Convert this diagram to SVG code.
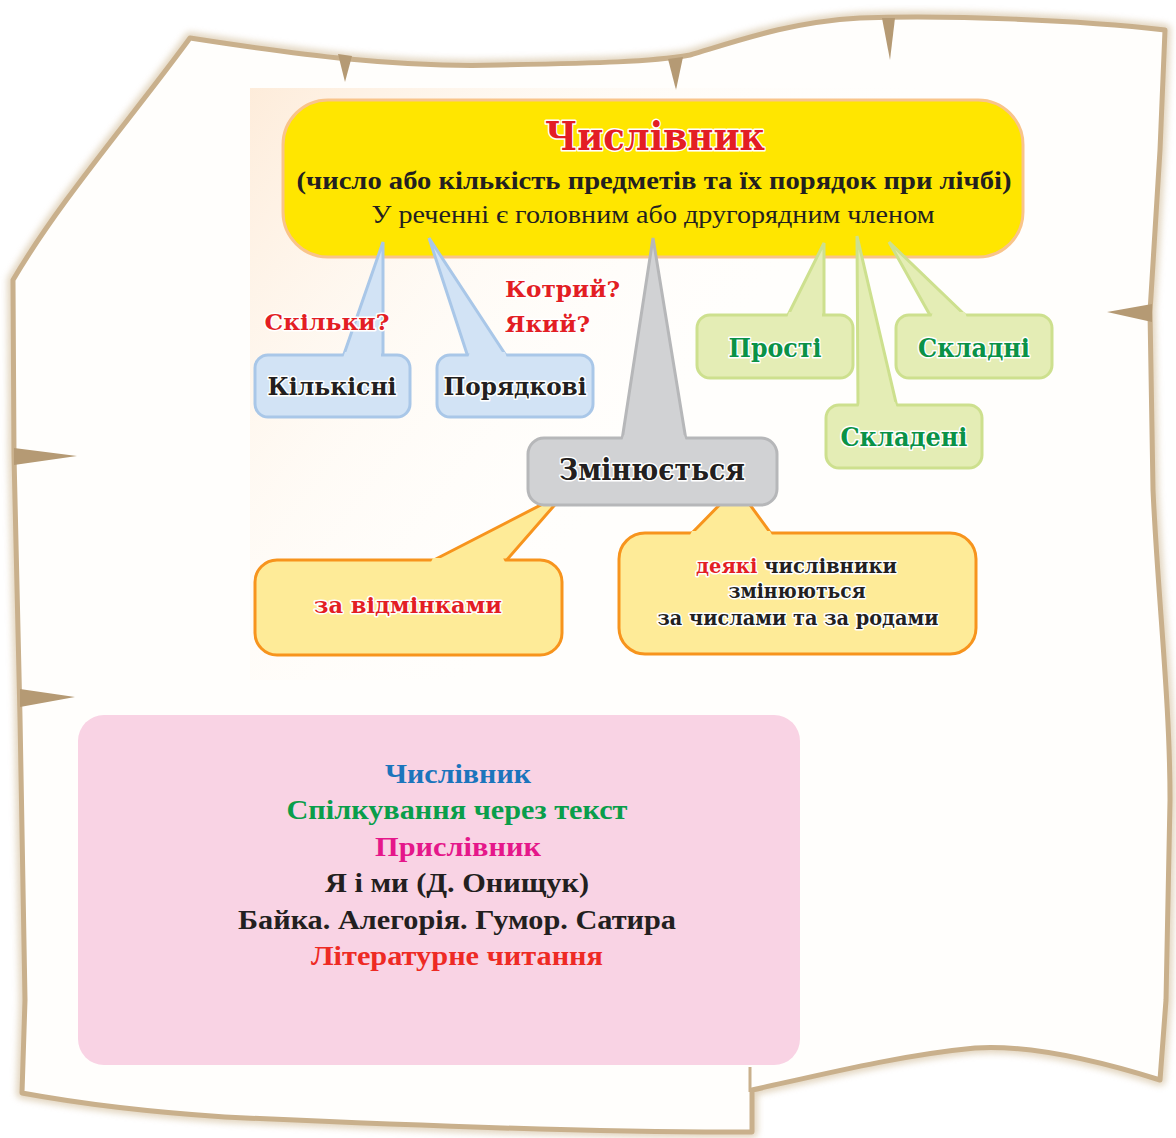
<svg xmlns="http://www.w3.org/2000/svg" width="1176" height="1138" viewBox="0 0 1176 1138">
<defs>
  <linearGradient id="peach" x1="0" y1="0" x2="1" y2="0.6">
    <stop offset="0" stop-color="#fde6cf" stop-opacity="0.75"/>
    <stop offset="0.35" stop-color="#fef3e6" stop-opacity="0.3"/>
    <stop offset="0.7" stop-color="#ffffff" stop-opacity="0"/>
  </linearGradient>
  <filter id="soft" x="-5%" y="-5%" width="110%" height="110%">
    <feGaussianBlur stdDeviation="3"/>
  </filter>
  <style>
    .edge{fill:none;stroke:#c9b08c;stroke-width:5;stroke-linejoin:round}
    .edgeSoft{fill:none;stroke:#d8c6a8;stroke-width:12;stroke-linejoin:round;opacity:0.7}
    .notch{fill:#b59a74}
    .lbl{font-family:"DejaVu Serif","Liberation Serif",serif;font-weight:bold;text-anchor:middle;paint-order:stroke;stroke:#ffffff;stroke-width:3;stroke-linejoin:round}
    .blk{fill:#231f20}
    .red{fill:#e31e24}
    .grn{fill:#0a9247}
    .tms{font-family:"Liberation Serif","Times New Roman",serif;text-anchor:middle}
    .blue{fill:#d2e3f5;stroke:#a9c7e8;stroke-width:3}
    .green{fill:#e4edb5;stroke:#cde08e;stroke-width:3}
    .gray{fill:#d1d2d4;stroke:#b6b7b9;stroke-width:3}
    .orange{fill:#feeb98;stroke:#f7941d;stroke-width:3}
  </style>
</defs>

<rect width="1176" height="1138" fill="#ffffff"/>

<!-- paper -->
<g id="paper">
  <path id="outline" d="M190,38 C300,55 400,68 500,65 C600,63 650,62 690,55 C740,40 790,22 860,18 C950,15 1080,20 1165,30 L1160,150 L1150,312 L1153,490 C1158,600 1170,700 1170,800 L1166,1000 L1160,1080 C1080,1055 1020,1045 975,1048 C900,1055 820,1075 752,1090 L752,1132 C600,1133 400,1125 225,1117 C120,1110 60,1100 22,1093 L25,1000 L20,717 L14,456 L13,280 C60,200 130,120 190,38 Z" fill="#fffefc"/>
  <use href="#outline" class="edgeSoft" filter="url(#soft)"/>
  <use href="#outline" class="edge"/>
  <line x1="750" y1="1067" x2="750" y2="1092" stroke="#c9b08c" stroke-width="3"/>
  <polygon class="notch" points="338,54 352,56 345,82"/>
  <polygon class="notch" points="668,59 683,57 676,90"/>
  <polygon class="notch" points="882,18 895,18 890,60"/>
  <polygon class="notch" points="1152,304 1152,322 1107,312"/>
  <polygon class="notch" points="14,448 14,465 77,456"/>
  <polygon class="notch" points="20,689 20,707 75,697"/>
</g>

<rect x="250" y="88" width="750" height="592" fill="url(#peach)"/>

<!-- main node -->
<g id="node-main">
  <rect x="283" y="100" width="740" height="157" rx="45" fill="#ffe600" stroke="#f9c48a" stroke-width="3"/>
  <text x="655" y="150" class="lbl red" font-size="40" stroke-width="5" textLength="220" lengthAdjust="spacingAndGlyphs">Числівник</text>
  <text x="654" y="189" class="tms blk" font-size="25" font-weight="bold" textLength="715" lengthAdjust="spacingAndGlyphs">(число або кількість предметів та їх порядок при лічбі)</text>
  <text x="653" y="223" class="tms blk" font-size="25" textLength="563" lengthAdjust="spacingAndGlyphs">У реченні є головним або другорядним членом</text>
</g>

<!-- connectors (callout tails) -->
<g id="connectors">
  <polygon class="blue" points="383,242 343,357 383,357"/>
  <polygon class="blue" points="429,238 468,357 507,357"/>
  <polygon class="gray" points="653,238 622,440 686,440"/>
  <polygon class="green" points="824,243 787,317 824,317"/>
  <polygon class="green" points="857,236 858,407 897,407"/>
  <polygon class="green" points="889,242 931,317 967,317"/>
  <polygon class="orange" points="430,562 566,492 505,562"/>
  <polygon class="orange" points="690,535 737,487 772,535"/>
</g>

<!-- question labels -->
<g id="q-skilky">
  <text x="327" y="330" class="lbl red" font-size="23" textLength="125" lengthAdjust="spacingAndGlyphs">Скільки?</text>
</g>
<g id="q-kotryi">
  <text x="505" y="297" class="lbl red" font-size="23" style="text-anchor:start" textLength="115" lengthAdjust="spacingAndGlyphs">Котрий?</text>
  <text x="505" y="332" class="lbl red" font-size="23" style="text-anchor:start" textLength="85" lengthAdjust="spacingAndGlyphs">Який?</text>
</g>

<g id="node-kilkisni">
  <rect x="255" y="355" width="155" height="62" rx="13" class="blue"/>
  <polygon points="345,352 381,352 381,358 343,358" fill="#d2e3f5"/>
  <text x="332" y="395" class="lbl blk" font-size="25" textLength="129" lengthAdjust="spacingAndGlyphs">Кількісні</text>
</g>
<g id="node-poriadkovi">
  <rect x="437" y="355" width="156" height="62" rx="13" class="blue"/>
  <polygon points="470,352 505,352 507,358 468,358" fill="#d2e3f5"/>
  <text x="515" y="395" class="lbl blk" font-size="25" textLength="143" lengthAdjust="spacingAndGlyphs">Порядкові</text>
</g>

<g id="node-prosti">
  <rect x="697" y="315" width="156" height="63" rx="13" class="green"/>
  <polygon points="789,312 822,312 822,318 787,318" fill="#e4edb5"/>
  <text x="775" y="357" class="lbl grn" font-size="26" textLength="93" lengthAdjust="spacingAndGlyphs">Прості</text>
</g>
<g id="node-skladni">
  <rect x="896" y="315" width="156" height="63" rx="13" class="green"/>
  <polygon points="933,312 965,312 967,318 931,318" fill="#e4edb5"/>
  <text x="974" y="357" class="lbl grn" font-size="26" textLength="112" lengthAdjust="spacingAndGlyphs">Складні</text>
</g>
<g id="node-skladeni">
  <rect x="826" y="405" width="156" height="63" rx="13" class="green"/>
  <polygon points="860,402 895,402 897,408 858,408" fill="#e4edb5"/>
  <text x="904" y="446" class="lbl grn" font-size="26" textLength="127" lengthAdjust="spacingAndGlyphs">Складені</text>
</g>

<g id="node-zminiuietsia">
  <rect x="528" y="438" width="249" height="67" rx="16" class="gray"/>
  <polygon points="624,435 684,435 686,441 622,441" fill="#d1d2d4"/>
  <text x="652" y="480" class="lbl blk" font-size="30" textLength="186" lengthAdjust="spacingAndGlyphs">Змінюється</text>
</g>

<g id="node-vidminky">
  <rect x="255" y="560" width="307" height="95" rx="22" class="orange"/>
  <polygon points="433,558 503,558 506,564 430,564" fill="#feeb98"/>
  <text x="408" y="613" class="lbl red" font-size="22" textLength="188" lengthAdjust="spacingAndGlyphs">за відмінками</text>
</g>
<g id="node-deiaki">
  <rect x="619" y="533" width="357" height="121" rx="26" class="orange"/>
  <polygon points="692,531 770,531 773,537 689,537" fill="#feeb98"/>
  <text x="696" y="573" class="lbl" font-size="20" style="text-anchor:start" textLength="201" lengthAdjust="spacingAndGlyphs"><tspan class="red">деякі</tspan><tspan class="blk"> числівники</tspan></text>
  <text x="797" y="598" class="lbl blk" font-size="20" textLength="137" lengthAdjust="spacingAndGlyphs">змінюються</text>
  <text x="798" y="625" class="lbl blk" font-size="20" textLength="281" lengthAdjust="spacingAndGlyphs">за числами та за родами</text>
</g>

<g id="node-contents">
  <rect x="78" y="715" width="722" height="350" rx="26" fill="#f9d3e4"/>
  <text x="458" y="783" class="tms" font-size="27" font-weight="bold" fill="#1b75bc" textLength="146" lengthAdjust="spacingAndGlyphs">Числівник</text>
  <text x="457" y="819" class="tms" font-size="27" font-weight="bold" fill="#0a9e4a" textLength="341" lengthAdjust="spacingAndGlyphs">Спілкування через текст</text>
  <text x="458" y="856" class="tms" font-size="27" font-weight="bold" fill="#e5178a" textLength="166" lengthAdjust="spacingAndGlyphs">Прислівник</text>
  <text x="457" y="892" class="tms" font-size="27" font-weight="bold" fill="#231f20" textLength="264" lengthAdjust="spacingAndGlyphs">Я і ми (Д. Онищук)</text>
  <text x="457" y="929" class="tms" font-size="27" font-weight="bold" fill="#231f20" textLength="438" lengthAdjust="spacingAndGlyphs">Байка. Алегорія. Гумор. Сатира</text>
  <text x="457" y="965" class="tms" font-size="27" font-weight="bold" fill="#ee2a24" textLength="292" lengthAdjust="spacingAndGlyphs">Літературне читання</text>
</g>
</svg>
